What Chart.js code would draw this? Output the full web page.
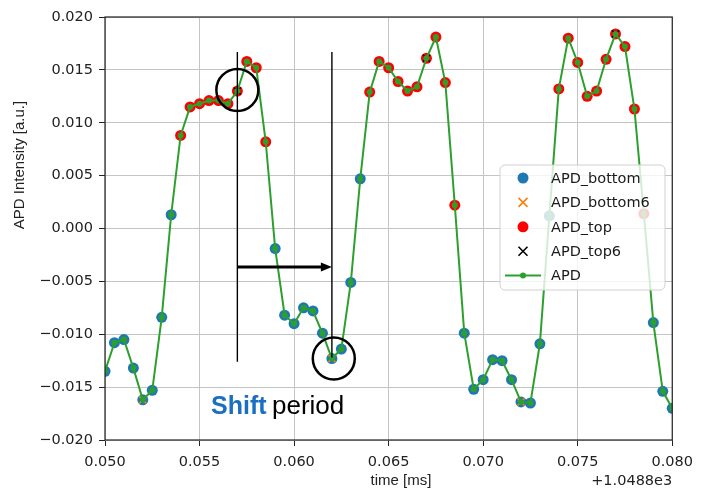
<!DOCTYPE html>
<html><head><meta charset="utf-8">
<script src="https://cdn.jsdelivr.net/npm/chart.js@4/dist/chart.umd.min.js"></script>
<style>html,body{margin:0;padding:0;background:#fff}#c{display:block}</style>
</head><body>
<canvas id="c" width="701" height="492"></canvas>
<script>
// time offset from 1.0488e3 ms
const timeOffsets = [
 0.0500,0.0505,0.0510,0.0515,0.0520,0.0525,0.0530,0.0535,0.0540,0.0545,
 0.0550,0.0555,0.0560,0.0565,0.0570,0.0575,0.0580,0.0585,0.0590,0.0595,
 0.0600,0.0605,0.0610,0.0615,0.0620,0.0625,0.0630,0.0635,0.0640,0.0645,
 0.0650,0.0655,0.0660,0.0665,0.0670,0.0675,0.0680,0.0685,0.0690,0.0695,
 0.0700,0.0705,0.0710,0.0715,0.0720,0.0725,0.0730,0.0735,0.0740,0.0745,
 0.0750,0.0755,0.0760,0.0765,0.0770,0.0775,0.0780,0.0785,0.0790,0.0795,
 0.0800];
const apdValues = [
 -0.0135,-0.0108,-0.0105,-0.0132,-0.0162,-0.0153,-0.0084,0.0013,0.0088,0.0115,
 0.0118,0.0121,0.0121,0.0118,0.0130,0.0158,0.0152,0.0082,-0.0019,-0.0082,
 -0.0090,-0.0075,-0.0078,-0.0099,-0.0123,-0.0114,-0.0051,0.0047,0.0129,0.0158,
 0.0152,0.0139,0.0130,0.0134,0.0161,0.0181,0.0138,0.0022,-0.0099,-0.0152,
 -0.0143,-0.0124,-0.0125,-0.0143,-0.0164,-0.0165,-0.0109,0.0012,0.0132,0.0180,
 0.0157,0.0125,0.0130,0.0160,0.0184,0.0172,0.0113,0.0014,-0.0089,-0.0154,
 -0.0170];
const bottomIdx = [0,1,2,3,4,5,6,7,18,19,20,21,22,23,24,25,26,27,38,39,40,41,42,43,44,45,46,47,58,59,60];
const topIdx = [8,9,10,11,12,13,14,15,16,17,28,29,30,31,32,33,34,35,36,37,48,49,50,51,52,53,54,55,56,57];
const bottom6Idx = [4,24,44];
const top6Idx = [14,34,54];
const xTickValues = [0.050,0.055,0.060,0.065,0.070,0.075,0.080];
const yTickValues = [-0.020,-0.015,-0.010,-0.005,0.000,0.005,0.010,0.015,0.020];
const seriesNames = ['APD_bottom','APD_bottom6','APD_top','APD_top6','APD'];
const shiftStart = 0.057, shiftEnd = 0.062;

const pts = idx => idx.map(i => ({x: timeOffsets[i], y: apdValues[i]}));
const TICKFONT = {family:'DejaVu Sans', size:14.5};

const overlay = {
  id:'overlay',
  afterDatasetsDraw(chart){
    const ctx = chart.ctx, xs = chart.scales.x, ys = chart.scales.y, a = chart.chartArea;
    ctx.save();
    // frame
    ctx.strokeStyle = '#222'; ctx.lineWidth = 1.2;
    ctx.strokeRect(a.left, a.top, a.right - a.left, a.bottom - a.top);
    // shift annotation
    const x1 = xs.getPixelForValue(shiftStart), x2 = xs.getPixelForValue(shiftEnd);
    ctx.strokeStyle = '#000'; ctx.lineWidth = 1.4;
    ctx.beginPath(); ctx.moveTo(x1, ys.getPixelForValue(0.0167)); ctx.lineTo(x1, ys.getPixelForValue(-0.0126)); ctx.stroke();
    ctx.beginPath(); ctx.moveTo(x2, ys.getPixelForValue(0.0167)); ctx.lineTo(x2, ys.getPixelForValue(-0.0122)); ctx.stroke();
    const ay = ys.getPixelForValue(-0.00365);
    ctx.lineWidth = 3;
    ctx.beginPath(); ctx.moveTo(x1, ay); ctx.lineTo(x2 - 9, ay); ctx.stroke();
    ctx.fillStyle = '#000';
    ctx.beginPath(); ctx.moveTo(x2, ay); ctx.lineTo(x2 - 11, ay - 4.5); ctx.lineTo(x2 - 11, ay + 4.5); ctx.closePath(); ctx.fill();
    ctx.lineWidth = 2.5;
    ctx.beginPath(); ctx.arc(x1, ys.getPixelForValue(0.0131), 21, 0, Math.PI*2); ctx.stroke();
    ctx.beginPath(); ctx.arc(xs.getPixelForValue(0.0621), ys.getPixelForValue(-0.0123), 21, 0, Math.PI*2); ctx.stroke();
    // Shift period text
    ctx.textBaseline = 'alphabetic'; ctx.textAlign = 'left';
    ctx.fillStyle = '#1a6fc0'; ctx.font = 'bold 25px "Liberation Sans"';
    ctx.fillText('Shift', 211, 414);
    ctx.fillStyle = '#000'; ctx.font = '26px "Liberation Sans"';
    ctx.fillText('period', 272, 414);

    // legend
    const lx = 500, ly = 165, lw = 165, lh = 125;
    ctx.fillStyle = 'rgba(255,255,255,0.8)'; ctx.strokeStyle = '#d0d0d0'; ctx.lineWidth = 1;
    ctx.beginPath(); ctx.roundRect(lx, ly, lw, lh, 5); ctx.fill(); ctx.stroke();
    const mx = 523, tx = 551;
    ctx.font = '14.5px "DejaVu Sans"'; ctx.textBaseline = 'middle';
    seriesNames.forEach((name, i) => {
      const y = 178 + i*24.4;
      if (i === 0 || i === 2) {
        ctx.fillStyle = i === 0 ? '#1f77b4' : '#ff0000';
        ctx.beginPath(); ctx.arc(mx, y, 5.5, 0, Math.PI*2); ctx.fill();
      } else if (i === 1 || i === 3) {
        ctx.strokeStyle = i === 1 ? '#ff7f0e' : '#000'; ctx.lineWidth = 1.6;
        ctx.beginPath(); ctx.moveTo(mx-4.5, y-4.5); ctx.lineTo(mx+4.5, y+4.5);
        ctx.moveTo(mx+4.5, y-4.5); ctx.lineTo(mx-4.5, y+4.5); ctx.stroke();
      } else {
        ctx.strokeStyle = '#2ca02c'; ctx.lineWidth = 2;
        ctx.beginPath(); ctx.moveTo(505, y); ctx.lineTo(541, y); ctx.stroke();
        ctx.fillStyle = '#2ca02c'; ctx.beginPath(); ctx.arc(mx, y, 3, 0, Math.PI*2); ctx.fill();
      }
      ctx.fillStyle = '#1a1a1a';
      ctx.fillText(name, tx, y + 1);
    });
    ctx.restore();
  },
  afterDraw(chart){
    const ctx = chart.ctx, a = chart.chartArea;
    ctx.save();
    ctx.fillStyle = '#222';
    ctx.font = '15px "Liberation Sans"';
    ctx.textAlign = 'center'; ctx.textBaseline = 'middle';
    ctx.fillText('time [ms]', 401, 481);
    ctx.font = '14.5px "DejaVu Sans"'; ctx.textAlign = 'right';
    ctx.fillText('+1.0488e3', a.right, 481);
    ctx.translate(20, 165); ctx.rotate(-Math.PI/2);
    ctx.font = '15px "Liberation Sans"'; ctx.textAlign = 'center';
    ctx.fillText('APD Intensity [a.u.]', 0, 0);
    ctx.restore();
  }
};

new Chart(document.getElementById('c'), {
  type: 'scatter',
  data: {
    datasets: [
      {label: seriesNames[0], data: pts(bottomIdx), pointStyle:'circle', pointRadius:5.5,
       backgroundColor:'#1f77b4', borderColor:'#1f77b4', borderWidth:0, order:4},
      {label: seriesNames[1], data: pts(bottom6Idx), pointStyle:'crossRot', pointRadius:5,
       borderColor:'#ff7f0e', backgroundColor:'#ff7f0e', borderWidth:1.6, order:3},
      {label: seriesNames[2], data: pts(topIdx), pointStyle:'circle', pointRadius:5.5,
       backgroundColor:'#ff0000', borderColor:'#ff0000', borderWidth:0, order:2},
      {label: seriesNames[3], data: pts(top6Idx), pointStyle:'crossRot', pointRadius:5,
       borderColor:'#000', backgroundColor:'#000', borderWidth:1.6, order:1},
      {label: seriesNames[4], data: timeOffsets.map((t,i)=>({x:t, y:apdValues[i]})), showLine:true,
       borderColor:'#2ca02c', backgroundColor:'#2ca02c', borderWidth:2, pointRadius:3,
       pointBorderWidth:0, tension:0, order:0}
    ]
  },
  options: {
    responsive:false, animation:false, events:[],
    layout:{padding:{left:0, top:17, right:28, bottom:0}},
    plugins:{legend:{display:false}, tooltip:{enabled:false}},
    scales:{
      x:{type:'linear', min:0.050, max:0.080,
        afterBuildTicks: s => { s.ticks = xTickValues.map(v => ({value:v})); },
        afterFit: s => { s.height = 52; },
        grid:{color:'#c4c4c4', lineWidth:1, tickLength:6, tickColor:'#222', drawTicks:true},
        border:{display:false},
        ticks:{font:TICKFONT, color:'#222', padding:8, maxRotation:0,
          callback: v => Number(v).toFixed(3)}},
      y:{type:'linear', min:-0.020, max:0.020,
        afterBuildTicks: s => { s.ticks = yTickValues.map(v => ({value:v})); },
        afterFit: s => { s.width = 105; },
        grid:{color:'#c4c4c4', lineWidth:1, tickLength:6, tickColor:'#222', drawTicks:true},
        border:{display:false},
        ticks:{font:TICKFONT, color:'#222', padding:6,
          callback: v => Number(v).toFixed(3).replace('-', '\u2212')}}
    }
  },
  plugins:[overlay]
});
</script>
</body></html>
